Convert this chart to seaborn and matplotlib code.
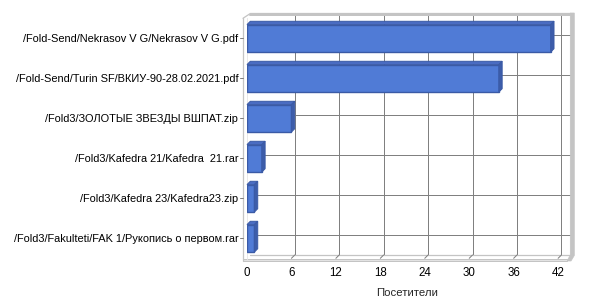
import matplotlib
matplotlib.use("Agg")
import matplotlib.pyplot as plt
from matplotlib.patches import Polygon
from matplotlib.lines import Line2D
from matplotlib.transforms import IdentityTransform
import seaborn as sns
import pandas as pd

# ---- data ----
files = [
    "/Fold-Send/Nekrasov V G/Nekrasov V G.pdf",
    "/Fold-Send/Turin SF/ВКИУ-90-28.02.2021.pdf",
    "/Fold3/ЗОЛОТЫЕ ЗВЕЗДЫ ВШПАТ.zip",
    "/Fold3/Kafedra 21/Kafedra  21.rar",
    "/Fold3/Kafedra 23/Kafedra23.zip",
    "/Fold3/Fakulteti/FAK 1/Рукопись о первом.rar",
]
visitors = [41, 34, 6, 2, 1, 1]
x_ticks = [0, 6, 12, 18, 24, 30, 36, 42]
x_label = "Посетители"

# ---- style ----
FACE = "#507BD6"
EDGE = "#3A5AA6"
SIDE = "#3D5DAA"
TOP = "#4A6CC2"
GRID = "#808080"
WALL = "#C4C4C4"
WALL_FILL = "#E2E2E2"
D = 3.3  # pseudo-depth in pixels
XMAX = 43.2
FS = 7.9

sns.set_style("white")
plt.rcParams["font.family"] = ["Liberation Sans", "DejaVu Sans"]

fig = plt.figure(figsize=(6, 3), dpi=100)
ax = fig.add_axes([247 / 600, (300 - 258.3) / 300, 320 / 600, 240 / 300])

df = pd.DataFrame({"file": files, "visitors": visitors})
sns.barplot(data=df, x="visitors", y="file", orient="h", width=0.685,
            color=FACE, saturation=1, edgecolor=EDGE, linewidth=1.0,
            ax=ax, zorder=3)

n = len(files)
ax.set_xlim(0, XMAX)
ax.set_ylim(n - 0.5, -0.5)
ax.set_xticks(x_ticks)
ax.set_xticklabels([str(t) for t in x_ticks])
for s in ax.spines.values():
    s.set_visible(False)
ax.grid(False)
ax.set_ylabel("")
ax.set_xlabel(x_label, fontsize=8.2, labelpad=6.5)
ax.tick_params(axis="y", length=0, pad=6.3, labelsize=FS, colors="black")
ax.tick_params(axis="x", length=0, pad=6.0, labelsize=8.3, colors="black")

ID = IdentityTransform()


def P(x, y, dx=0.0, dy=0.0):
    px, py = ax.transData.transform((x, y))
    return (px + dx, py + dy)


def line(p0, p1, color=GRID, lw=0.72, z=1):
    ax.add_line(Line2D([p0[0], p1[0]], [p0[1], p1[1]], color=color, lw=lw,
                       transform=ID, clip_on=False, zorder=z))


def poly(pts, fc, ec, lw=0.72, z=1):
    ax.add_patch(Polygon(pts, closed=True, facecolor=fc, edgecolor=ec, lw=lw,
                         transform=ID, clip_on=False, zorder=z))


ytop, ybot = -0.5, n - 0.5

# back wall gridlines
for t in x_ticks[1:]:
    line(P(t, ybot, D, D), P(t, ytop, D, D))
for i in range(n):
    line(P(0, i, D, D), P(XMAX, i, D, D))

# back wall top edge (double light line)
line(P(0, ytop, D, D), P(XMAX, ytop, D, D), color=WALL, lw=1.44)
line(P(0, ytop, D, D + 1.5), P(XMAX, ytop, D, D + 1.5), color=WALL, lw=0.9)

# right wall slab
poly([P(XMAX, ytop, D, D + 2), P(XMAX, ytop, D + 4, D + 2),
      P(XMAX, ybot, D + 4, D - 0.5), P(XMAX, ybot, 4, -2.7),
      P(XMAX, ybot, 0, -2.7), P(XMAX, ybot, D, D)],
     WALL, WALL, lw=0.5, z=1)

# floor
line(P(0, ybot, D, D), P(XMAX, ybot, D, D), color=WALL, lw=0.9)
poly([P(0, ybot, -4, -0.5), P(XMAX, ybot, 0, -0.5), P(XMAX, ybot, 0, -2.7),
      P(0, ybot, -4, -2.7)], WALL_FILL, WALL, lw=0.72, z=1)

# left wall
line(P(0, ytop, -4, 0), P(0, ybot, -4, -2.7), color=WALL, lw=0.9)
line(P(0, ytop, -4, 0), P(0, ytop, D, D + 1.5), color=WALL, lw=0.9)
line(P(0, ytop, 0, 0), P(0, ybot, 0, -0.5), color="#E8E8E8", lw=0.72)

# floor tick marks (diagonal)
for t in x_ticks[1:]:
    line(P(t, ybot, 0, 0), P(t, ybot, D, D), color=GRID, z=2)
# category tick marks on left wall
for i in range(n):
    line(P(0, i, -7, 0), P(0, i, -4, 0), color=GRID, z=2)

# pseudo-3D faces for bars, built from the bar patches seaborn drew
for patch in ax.patches[:n]:
    bb = patch.get_bbox()
    x0, x1 = bb.x0, bb.x1
    ya, yb = bb.y0, bb.y1
    (lx, ly_a) = P(x0, ya)
    (rx, ly_b) = P(x1, yb)
    top_y = max(ly_a, ly_b)
    bot_y = min(ly_a, ly_b)
    poly([(lx, top_y), (rx, top_y), (rx + D, top_y + D), (lx + D, top_y + D)],
         TOP, EDGE, lw=0.72, z=4)
    poly([(rx, top_y), (rx + D, top_y + D), (rx + D, bot_y + D), (rx, bot_y)],
         SIDE, EDGE, lw=0.72, z=4)

fig.savefig("out.png", dpi=100)
